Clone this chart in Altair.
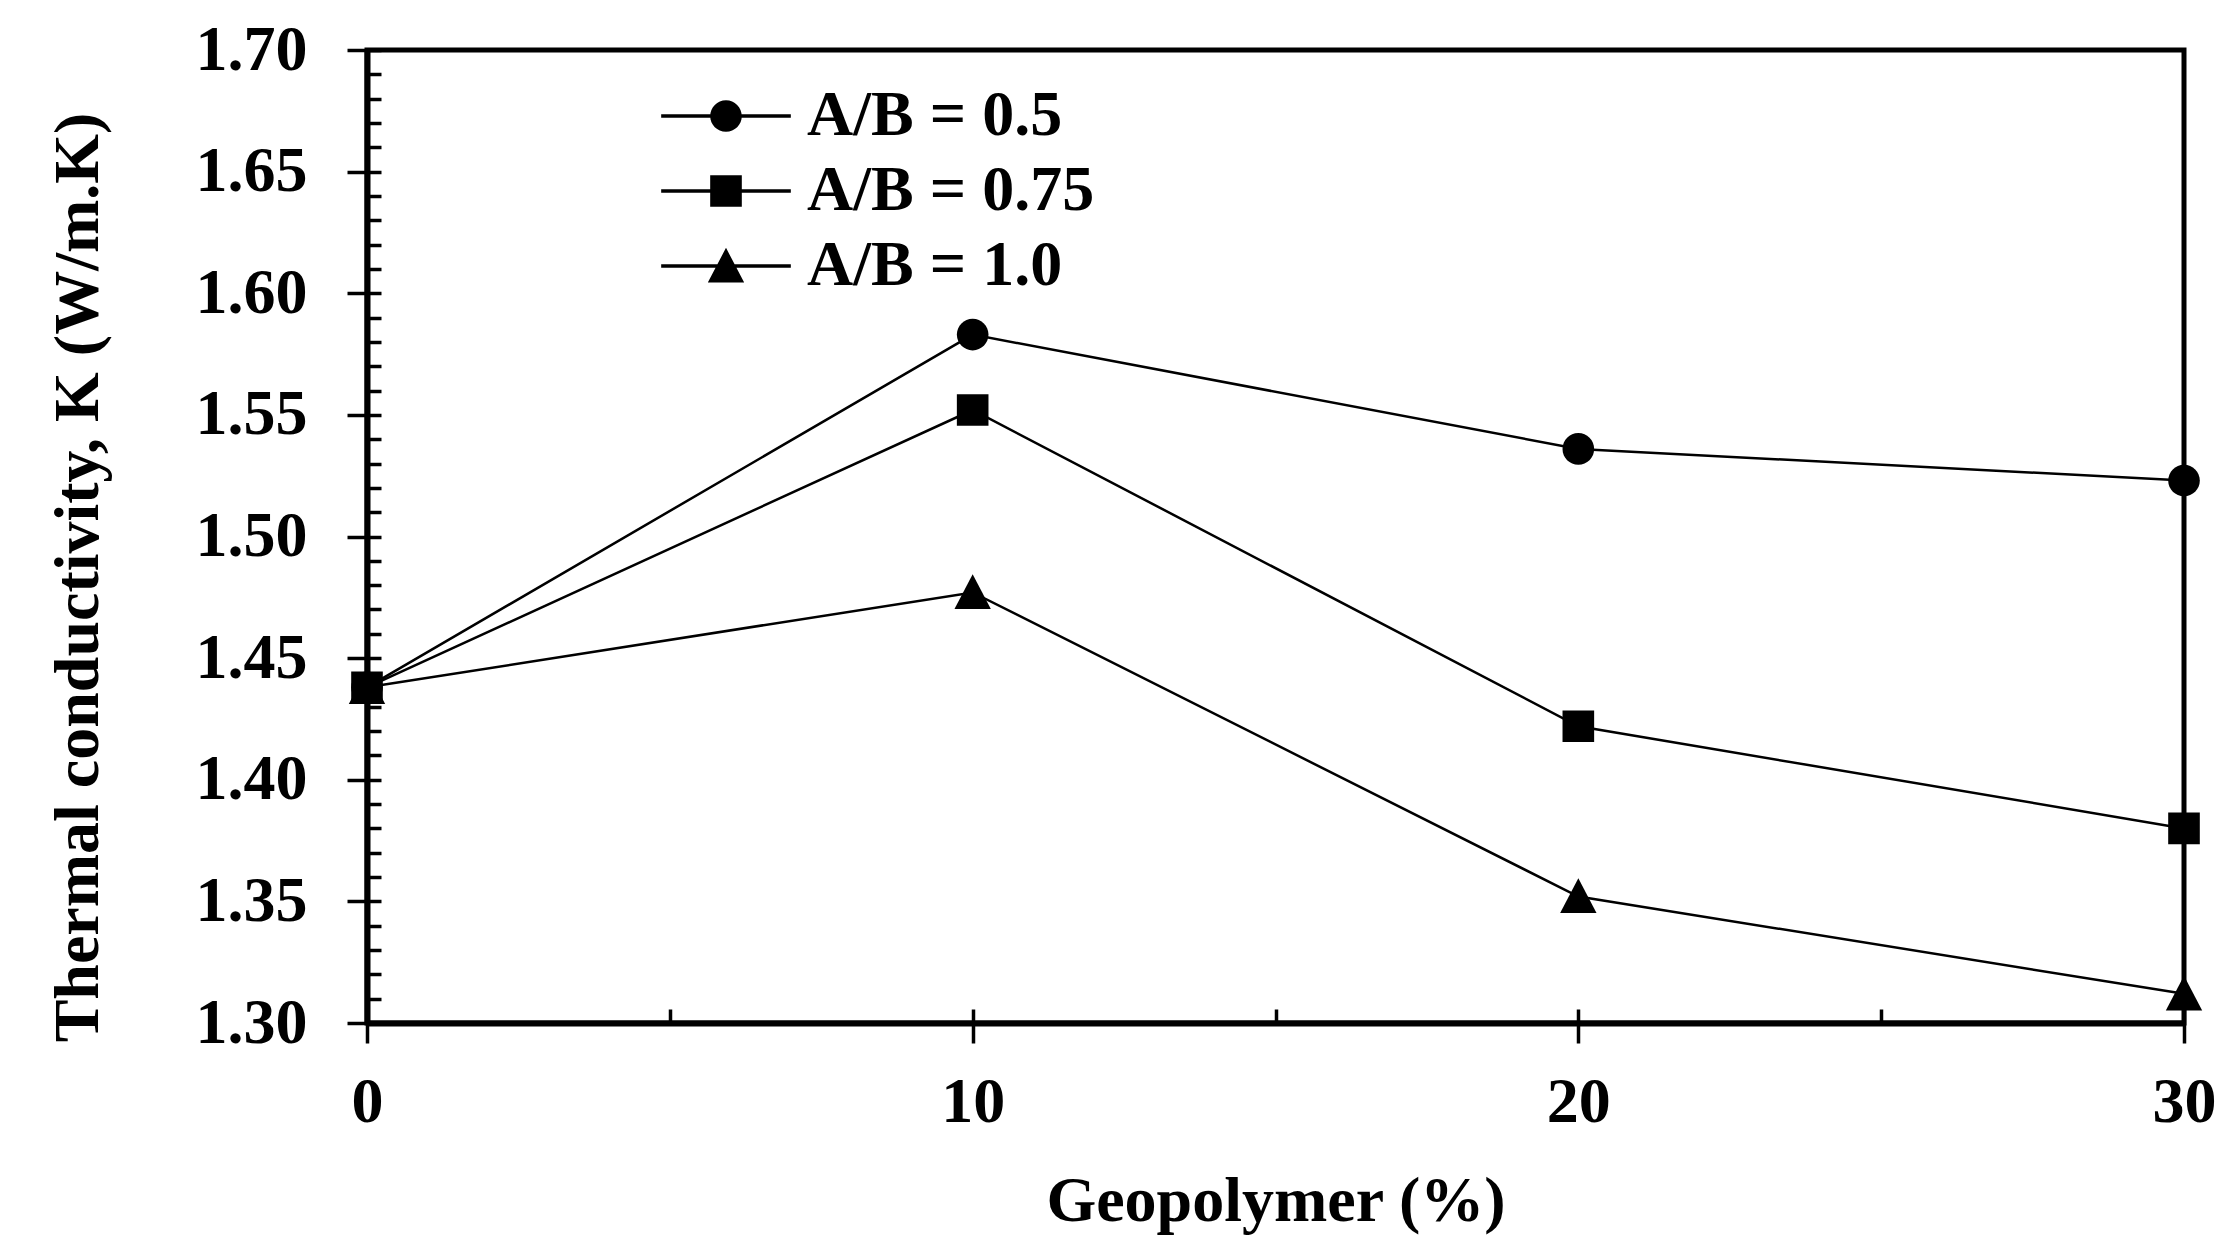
import altair as alt
import pandas as pd

# ---- data ----
geopolymer = [0, 10, 20, 30]
series_names = ["A/B = 0.5", "A/B = 0.75", "A/B = 1.0"]
k_ab_05 = [1.438, 1.583, 1.536, 1.523]
k_ab_075 = [1.438, 1.552, 1.422, 1.380]
k_ab_10 = [1.438, 1.477, 1.352, 1.312]

y_major = [1.30, 1.35, 1.40, 1.45, 1.50, 1.55, 1.60, 1.65, 1.70]
y_minor = [round(1.30 + 0.01 * i, 2) for i in range(41)]
x_major = [0, 10, 20, 30]
x_minor = [0, 5, 10, 15, 20, 25, 30]

rows = []
for name, vals in zip(series_names, [k_ab_05, k_ab_075, k_ab_10]):
    for x, v in zip(geopolymer, vals):
        rows.append({"x": x, "k": v, "series": name})
df = pd.DataFrame(rows)

FONT = "Liberation Serif"
FS = 64

# marker shapes (unit box -1..1)
circle = "M 1 0 A 1 1 0 1 1 -1 0 A 1 1 0 1 1 1 0 Z"
square = "M -1 -1 L 1 -1 L 1 1 L -1 1 Z"
triangle = "M 0 -1.15 L 1.15 1.05 L -1.15 1.05 Z"
bar = "M -4.1 -0.11 L 4.1 -0.11 L 4.1 0.11 L -4.1 0.11 Z "
legend_paths = [bar + circle, bar + square, bar + triangle]

xscale = alt.Scale(domain=[0, 30], nice=False, zero=False)
yscale = alt.Scale(domain=[1.30, 1.70], nice=False, zero=False)

axis_x_major = alt.Axis(
    values=x_major, orient="bottom", format="d", grid=False,
    domainColor="black", domainWidth=6,
    tickColor="black", tickWidth=3.5, tickSize=20,
    labelFont=FONT, labelFontSize=FS, labelFontWeight="bold", labelColor="black",
    labelPadding=27, labelFlush=False, labelOverlap=False,
    title="Geopolymer (%)", titleFont=FONT, titleFontSize=FS, titleFontWeight="bold",
    titleColor="black", titlePadding=35,
)
axis_y_major = alt.Axis(
    values=y_major, orient="left", format=".2f", grid=False,
    domainColor="black", domainWidth=6,
    tickColor="black", tickWidth=3.5, tickSize=20,
    labelFont=FONT, labelFontSize=FS, labelFontWeight="bold", labelColor="black",
    labelPadding=40, labelOverlap=False,
    title="Thermal conductivity, K (W/m.K)", titleFont=FONT, titleFontSize=FS,
    titleFontWeight="bold", titleColor="black", titlePadding=85, titleY=527,
)
axis_x_minor = alt.Axis(
    values=x_minor, orient="bottom", offset=-14, tickSize=14, tickWidth=3.5,
    tickColor="black", domain=False, labels=False, title=None, grid=False,
)
axis_y_minor = alt.Axis(
    values=y_minor, orient="left", offset=-14, tickSize=14, tickWidth=3.5,
    tickColor="black", domain=False, labels=False, title=None, grid=False,
)

base = alt.Chart(df)

lines = base.mark_line(color="black", strokeWidth=2.5).encode(
    x=alt.X("x:Q", scale=xscale, axis=axis_x_major),
    y=alt.Y("k:Q", scale=yscale, axis=axis_y_major),
    detail="series:N",
)

points = base.mark_point(filled=True, color="black", size=1000, opacity=1).encode(
    x=alt.X("x:Q", scale=xscale, axis=axis_x_minor),
    y=alt.Y("k:Q", scale=yscale, axis=axis_y_minor),
    shape=alt.Shape("series:N",
                    scale=alt.Scale(domain=series_names, range=[circle, square, triangle]),
                    legend=None),
)

legend_layer = base.transform_filter("datum.x < -100").mark_point(
    filled=True, color="black", size=1000, opacity=1
).encode(
    x=alt.X("x:Q", scale=xscale, axis=None),
    y=alt.Y("k:Q", scale=yscale, axis=None),
    shape=alt.Shape("series:N",
                    scale=alt.Scale(domain=series_names, range=legend_paths),
                    legend=alt.Legend(
                        title=None, orient="none", legendX=327, legendY=34,
                        padding=0, symbolSize=1000, symbolFillColor="black",
                        symbolStrokeWidth=0, symbolOpacity=1,
                        labelFont=FONT, labelFontSize=FS, labelFontWeight="bold",
                        labelColor="black", labelOffset=49, labelLimit=1000,
                        rowPadding=11,
                    )),
)

chart = (
    alt.layer(lines, points, legend_layer)
    .resolve_axis(x="independent", y="independent")
    .resolve_scale(shape="independent")
    .properties(
        width=1817, height=973,
        padding={"left": 359, "top": 42, "right": 40, "bottom": 215},
        autosize=alt.AutoSizeParams(type="none"),
        background="white",
    )
    .configure_view(stroke="black", strokeWidth=5)
)

chart.save("out.html", embed_options={"renderer": "svg", "actions": False})
